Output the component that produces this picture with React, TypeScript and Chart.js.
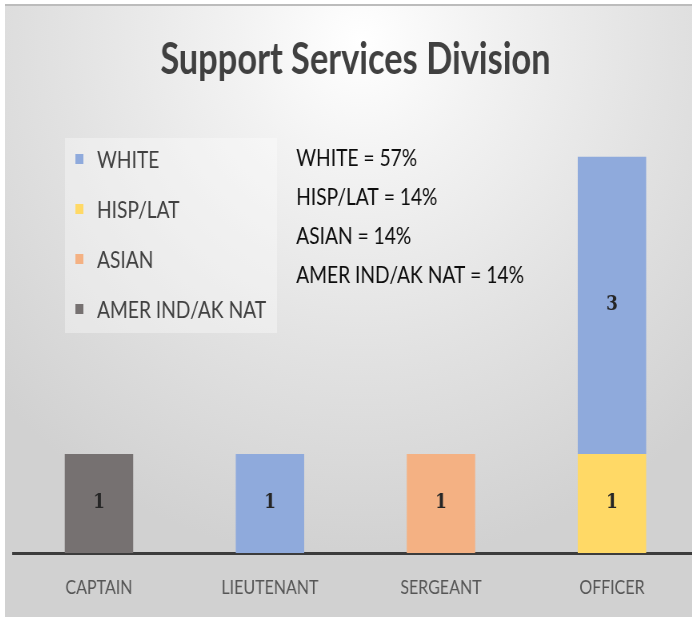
import React, { useEffect, useRef } from 'react';
import { Chart, registerables } from 'chart.js';

Chart.register(...registerables);

// ---------- data ----------
const titleText = 'Support Services Division';
const categories = ['CAPTAIN', 'LIEUTENANT', 'SERGEANT', 'OFFICER'];
const seriesNames = ['WHITE', 'HISP/LAT', 'ASIAN', 'AMER IND/AK NAT'];
const whiteValues = [null, 1, null, 3];
const hispLatValues = [null, null, null, 1];
const asianValues = [null, null, 1, null];
const amerIndValues = [1, null, null, null];
const sharePercents = [57, 14, 14, 14];
const yMax = 4;

const seriesColors: Record<string, string> = {
  'WHITE': '#8faadc',
  'HISP/LAT': '#ffd966',
  'ASIAN': '#f4b183',
  'AMER IND/AK NAT': '#767171',
};

// ---------- layout ----------
const SQUEEZE = 0.8;
const FRAME_W = 712;
const FRAME_H = 613;
const CANVAS_W = FRAME_W / SQUEEZE;
const TEXT_FONT = '24px Lato, "Open Sans", sans-serif';

const valueLabelPlugin = {
  id: 'valueLabels',
  afterDatasetsDraw(chart: any) {
    const ctx = chart.ctx;
    ctx.save();
    ctx.font = 'bold 21px "DejaVu Serif", "Liberation Serif", serif';
    ctx.fillStyle = '#262626';
    ctx.textAlign = 'center';
    ctx.textBaseline = 'middle';
    chart.data.datasets.forEach((ds: any, di: number) => {
      const meta = chart.getDatasetMeta(di);
      meta.data.forEach((el: any, i: number) => {
        const v = ds.data[i];
        if (v == null) return;
        const { x, y, base } = el.getProps(['x', 'y', 'base'], true);
        ctx.fillText(String(v), x, (y + base) / 2 - 1);
      });
    });
    ctx.restore();
  },
};

const legendBoxPlugin = {
  id: 'legendBox',
  afterDraw(chart: any) {
    const ctx = chart.ctx;
    ctx.save();
    ctx.fillStyle = 'rgba(255,255,255,0.35)';
    ctx.fillRect(75, 134, 265, 195);
    ctx.font = TEXT_FONT;
    ctx.textAlign = 'left';
    ctx.textBaseline = 'middle';
    seriesNames.forEach((name, i) => {
      const cy = 155 + i * 50;
      ctx.fillStyle = seriesColors[name];
      ctx.fillRect(88, cy - 5, 10, 10);
      ctx.fillStyle = '#404040';
      ctx.fillText(name, 115, cy + 1);
    });
    ctx.restore();
  },
};

const shareTextPlugin = {
  id: 'shareText',
  afterDraw(chart: any) {
    const ctx = chart.ctx;
    ctx.save();
    ctx.font = TEXT_FONT;
    ctx.fillStyle = '#0d0d0d';
    ctx.textAlign = 'left';
    ctx.textBaseline = 'middle';
    seriesNames.forEach((name, i) => {
      ctx.fillText(`${name} = ${sharePercents[i]}%`, 364, 154 + i * 39);
    });
    ctx.restore();
  },
};

export default function App() {
  const canvasRef = useRef<HTMLCanvasElement | null>(null);

  useEffect(() => {
    if (!canvasRef.current) return;
    const chart = new Chart(canvasRef.current, {
      type: 'bar',
      data: {
        labels: categories,
        datasets: [
          { label: 'HISP/LAT', data: hispLatValues, backgroundColor: seriesColors['HISP/LAT'] },
          { label: 'WHITE', data: whiteValues, backgroundColor: seriesColors['WHITE'] },
          { label: 'ASIAN', data: asianValues, backgroundColor: seriesColors['ASIAN'] },
          { label: 'AMER IND/AK NAT', data: amerIndValues, backgroundColor: seriesColors['AMER IND/AK NAT'] },
        ],
      },
      options: {
        responsive: false,
        animation: false,
        datasets: { bar: { barPercentage: 1, categoryPercentage: 0.4 } },
        layout: { padding: { top: 0, left: 10.6, right: 24.4, bottom: -6 } },
        plugins: {
          legend: { display: false },
          tooltip: { enabled: false },
          title: {
            display: true,
            text: titleText,
            color: '#404040',
            font: { family: 'Lato, "Open Sans", sans-serif', size: 43, weight: 'bold' },
            padding: { top: 30, bottom: 71 },
          },
        },
        scales: {
          x: {
            stacked: true,
            grid: { display: false, drawTicks: false },
            border: { display: true, color: '#3c3c3c', width: 3 },
            ticks: { color: '#555555', font: { family: 'Lato, "Open Sans", sans-serif', size: 20 }, padding: 23 },
          },
          y: { stacked: true, display: false, min: 0, max: yMax },
        },
      } as any,
      plugins: [valueLabelPlugin, legendBoxPlugin, shareTextPlugin],
    });
    return () => chart.destroy();
  }, []);

  return (
    <div style={{ position: 'fixed', left: 0, top: 0, width: 692, height: 622, overflow: 'hidden', background: '#ffffff' }}>
      <div
        style={{
          position: 'absolute',
          left: 5,
          top: 4,
          width: FRAME_W,
          height: FRAME_H,
          background:
            'radial-gradient(ellipse 70% 85% at 50% 6%, #ffffff 0%, #f2f2f2 25%, #e2e2e2 60%, #d1d1d1 100%)',
          boxShadow: 'inset 0 2px 0 #bcbcbc',
        }}
      >
        <canvas
          ref={canvasRef}
          width={CANVAS_W}
          height={FRAME_H}
          style={{ display: 'block', transform: `scaleX(${SQUEEZE})`, transformOrigin: '0 0' }}
        />
      </div>
    </div>
  );
}
